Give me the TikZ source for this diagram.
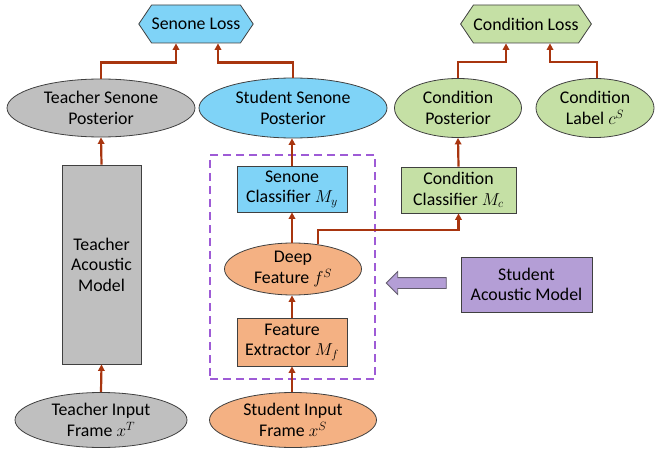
\documentclass[tikz,border=0pt]{standalone}
\usepackage{fontspec}
\setmainfont{Carlito}
\usetikzlibrary{shapes.geometric,shapes.symbols,shapes.arrows,arrows.meta}
\definecolor{senblue}{HTML}{7FD3F7}
\definecolor{tgray}{HTML}{BFBFBF}
\definecolor{cgreen}{HTML}{C5E0A5}
\definecolor{sorange}{HTML}{F4B183}
\definecolor{spurple}{HTML}{B49ED6}
\definecolor{dpurple}{HTML}{9E5BD6}
\definecolor{arrred}{HTML}{A8350F}
\definecolor{edge}{HTML}{404040}
\begin{document}
\begin{tikzpicture}[x=1pt,y=-1pt,
  every node/.style={font=\fontsize{17.8}{20.5}\selectfont, align=center, text=black},
  base/.style={draw=edge, line width=0.8pt, inner sep=0pt},
  ell/.style={base, ellipse},
  box/.style={base, rectangle},
  hexa/.style={base, signal, signal to=west and east, signal pointer angle=112},
  conn/.style={draw=arrred, line width=2.2pt, -{Triangle[length=6.5pt,width=6.5pt]}}]
\useasboundingbox (0,0) rectangle (655,449);
% losses
\node[hexa, fill=senblue, minimum width=109pt, minimum height=38pt] (sl) at (196,24) {Senone Loss};
\node[hexa, fill=cgreen, minimum width=126pt, minimum height=38pt] (cl) at (526,24) {Condition Loss};
% posteriors
\node[ell, fill=tgray, minimum width=188pt, minimum height=58pt] (tsp) at (101,108) {Teacher Senone\\Posterior};
\node[ell, fill=senblue, minimum width=188pt, minimum height=60pt] (ssp) at (293,108) {Student Senone\\Posterior};
\node[ell, fill=cgreen, minimum width=127pt, minimum height=59pt] (cp) at (458,108) {Condition\\Posterior};
\node[ell, fill=cgreen, minimum width=118pt, minimum height=59pt] (lab) at (595,108) {Condition\\Label $c^S$};
% teacher
\node[box, fill=tgray, minimum width=79pt, minimum height=199pt] (tam) at (101.5,264.5) {Teacher\\Acoustic\\Model};
\node[ell, fill=tgray, minimum width=172pt, minimum height=55pt] (tin) at (101,420) {Teacher Input\\Frame $x^T$};
% student
\node[box, fill=senblue, minimum width=110pt, minimum height=46pt] (sc) at (292,189) {Senone\\Classifier $M_y$};
\node[ell, fill=sorange, minimum width=137pt, minimum height=52pt] (df) at (293,269) {Deep\\Feature $f^S$};
\node[box, fill=sorange, minimum width=110pt, minimum height=48pt] (fe) at (292,342) {Feature\\Extractor $M_f$};
\node[ell, fill=sorange, minimum width=167pt, minimum height=55pt] (sin) at (293,420) {Student Input\\Frame $x^S$};
\node[draw=dpurple, line width=2pt, dash pattern=on 8pt off 5pt, minimum width=165pt, minimum height=224pt, inner sep=0pt] (dash) at (292.5,267) {};
% condition classifier
\node[box, fill=cgreen, minimum width=115pt, minimum height=46pt] (cc) at (458.5,190) {Condition\\Classifier $M_c$};
% student acoustic model
\node[box, fill=spurple, minimum width=131pt, minimum height=55pt] (sam) at (526.5,284.5) {Student\\Acoustic Model};
\node[single arrow, shape border rotate=180, draw=edge!70!spurple, fill=spurple, line width=0.8pt,
  minimum height=60pt, inner sep=5pt, single arrow head extend=6pt] (bigarr) at (419,283) {};
% connectors
\draw[conn] (tsp.north) -- ++(0,-16) -| ([xshift=-20pt]sl.south);
\draw[conn] (ssp.north) -- ++(0,-15) -| ([xshift=22pt]sl.south);
\draw[conn] (cp.north) -- ++(0,-16) -| ([xshift=-20pt]cl.south);
\draw[conn] ([xshift=2pt]lab.north) -- ++(0,-16) -| ([xshift=24pt]cl.south);
\draw[conn] (tin.north) -- (tam.south);
\draw[conn] (tam.north) -- (tsp.south);
\draw[conn] (sin.north -| fe.south) -- (fe.south);
\draw[conn] (fe.north) -- (df.south -| fe.north);
\draw[conn] (df.north -| sc.south) -- (sc.south);
\draw[conn] (sc.north) -- (ssp.south -| sc.north);
\draw[conn] (df.45) -- ++(0,-14) -| (cc.south);
\draw[conn] (cc.north) -- (cp.south);
\end{tikzpicture}
\end{document}
